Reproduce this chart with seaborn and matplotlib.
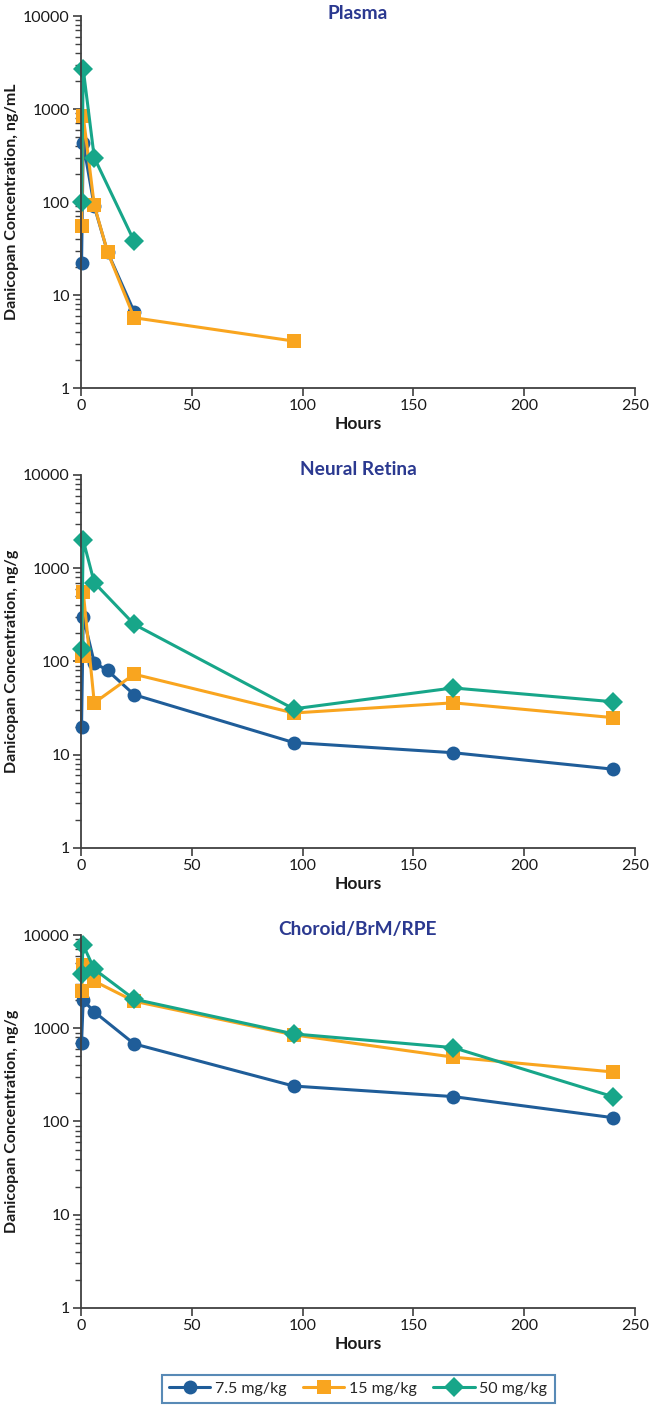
import matplotlib
matplotlib.use("Agg")
import matplotlib.pyplot as plt
import matplotlib.ticker as mticker
import numpy as np
import pandas as pd
import seaborn as sns

# ---------------------------------------------------------------------------
# Data
# ---------------------------------------------------------------------------
DOSES = ["7.5 mg/kg", "15 mg/kg", "50 mg/kg"]
COLORS = {"7.5 mg/kg": "#1F5D99", "15 mg/kg": "#F9A51F", "50 mg/kg": "#17A689"}
MARKERS = {"7.5 mg/kg": "o", "15 mg/kg": "s", "50 mg/kg": "D"}

# Plasma (ng/mL)
plasma_hours_low = [0.25, 1, 6, 12, 24]
plasma_low = [22, 430, 90, 29, 6.6]
plasma_hours_mid = [0.25, 1, 6, 12, 24, 96]
plasma_mid = [55, 850, 92, 29, 5.7, 3.2]
plasma_hours_high = [0.25, 1, 6, 24]
plasma_high = [100, 2700, 300, 38]

# Neural retina (ng/g)
retina_hours_low = [0.25, 1, 6, 12, 24, 96, 168, 240]
retina_low = [20, 300, 97, 80, 44, 13.5, 10.5, 7]
retina_hours_mid = [0.25, 1, 6, 24, 96, 168, 240]
retina_mid = [115, 560, 36, 73, 28, 36, 25]
retina_hours_high = [0.25, 1, 6, 24, 96, 168, 240]
retina_high = [135, 2000, 700, 250, 31, 52, 37]

# Choroid/BrM/RPE (ng/g)
choroid_hours_low = [0.25, 1, 6, 24, 96, 168, 240]
choroid_low = [700, 2000, 1500, 680, 240, 185, 110]
choroid_hours_mid = [0.25, 1, 6, 24, 96, 168, 240]
choroid_mid = [2500, 4800, 3200, 1950, 850, 490, 340]
choroid_hours_high = [0.25, 1, 6, 24, 96, 168, 240]
choroid_high = [3800, 7800, 4300, 2050, 870, 620, 185]

PANELS = [
    ("Plasma", "Danicopan Concentration, ng/mL",
     [(plasma_hours_low, plasma_low), (plasma_hours_mid, plasma_mid),
      (plasma_hours_high, plasma_high)]),
    ("Neural Retina", "Danicopan Concentration, ng/g",
     [(retina_hours_low, retina_low), (retina_hours_mid, retina_mid),
      (retina_hours_high, retina_high)]),
    ("Choroid/BrM/RPE", "Danicopan Concentration, ng/g",
     [(choroid_hours_low, choroid_low), (choroid_hours_mid, choroid_mid),
      (choroid_hours_high, choroid_high)]),
]

X_TICKS = [0, 50, 100, 150, 200, 250]
Y_TICKS = [1, 10, 100, 1000, 10000]

TITLE_COLOR = "#2B3990"
AXIS_COLOR = "#404040"
TEXT_COLOR = "#1A1A1A"

sns.set_theme(style="ticks")
plt.rcParams["font.family"] = ["Lato", "DejaVu Sans"]


def to_frame(series):
    rows = []
    for dose, (hours, conc) in zip(DOSES, series):
        for h, c in zip(hours, conc):
            rows.append({"Hours": h, "Conc": c, "Dose": dose})
    return pd.DataFrame(rows)


fig = plt.figure(figsize=(6.5, 14.09), dpi=100)
boxes = [
    [0.1246, 0.7246, 0.852, 0.264],
    [0.1246, 0.3982, 0.852, 0.2647],
    [0.1246, 0.0717, 0.852, 0.2647],
]
title_y = [0.993, 1.0, 1.0]

for box, ty, (title, ylabel, series) in zip(boxes, title_y, PANELS):
    ax = fig.add_axes(box)
    df = to_frame(series)
    sns.lineplot(
        data=df, x="Hours", y="Conc", hue="Dose", style="Dose",
        hue_order=DOSES, style_order=DOSES, palette=COLORS,
        markers=MARKERS, dashes=False, markersize=10, linewidth=2.2,
        markeredgewidth=0, ax=ax, legend=False, clip_on=False,
        estimator=None, sort=False,
    )
    ax.set_yscale("log")
    ax.set_xlim(0, 250)
    ax.set_ylim(1, 10000)
    ax.set_xticks(X_TICKS)
    ax.set_yticks(Y_TICKS)
    ax.yaxis.set_major_formatter(mticker.FuncFormatter(lambda v, p: f"{v:g}"))
    ax.yaxis.set_minor_locator(mticker.LogLocator(base=10, subs=np.arange(2, 10)))
    ax.yaxis.set_minor_formatter(mticker.NullFormatter())
    ax.tick_params(axis="both", which="major", direction="out", length=6,
                   width=1.2, color=AXIS_COLOR, labelsize=11.5,
                   labelcolor=TEXT_COLOR, pad=2)
    ax.tick_params(axis="y", which="minor", direction="out", length=4,
                   width=1.0, color=AXIS_COLOR)
    for side in ["top", "right"]:
        ax.spines[side].set_visible(False)
    for side in ["left", "bottom"]:
        ax.spines[side].set_color(AXIS_COLOR)
        ax.spines[side].set_linewidth(1.3)
    ax.set_title(title, fontsize=13.8, fontweight="bold", color=TITLE_COLOR,
                 y=ty, pad=0)
    ax.set_xlabel("Hours", fontsize=12.5, fontweight="bold", color=TEXT_COLOR, labelpad=2)
    ax.set_ylabel(ylabel, fontsize=11.5, fontweight="bold", color=TEXT_COLOR, labelpad=3)
    ax.set_facecolor("white")

handles = [
    plt.Line2D([], [], color=COLORS[d], marker=MARKERS[d], markersize=10,
               markeredgewidth=0, linewidth=2.2, label=d)
    for d in DOSES
]
leg = fig.legend(
    handles=handles, loc="center", bbox_to_anchor=(0.551, 0.0142),
    ncol=3, frameon=True, fancybox=False, fontsize=11.5,
    handlelength=2.6, handletextpad=0.3, columnspacing=1.0,
    borderpad=0.45,
)
leg.get_frame().set_edgecolor("#2E6DA4")
leg.get_frame().set_linewidth(1.5)

fig.savefig("out.png", dpi=100, facecolor="white")
